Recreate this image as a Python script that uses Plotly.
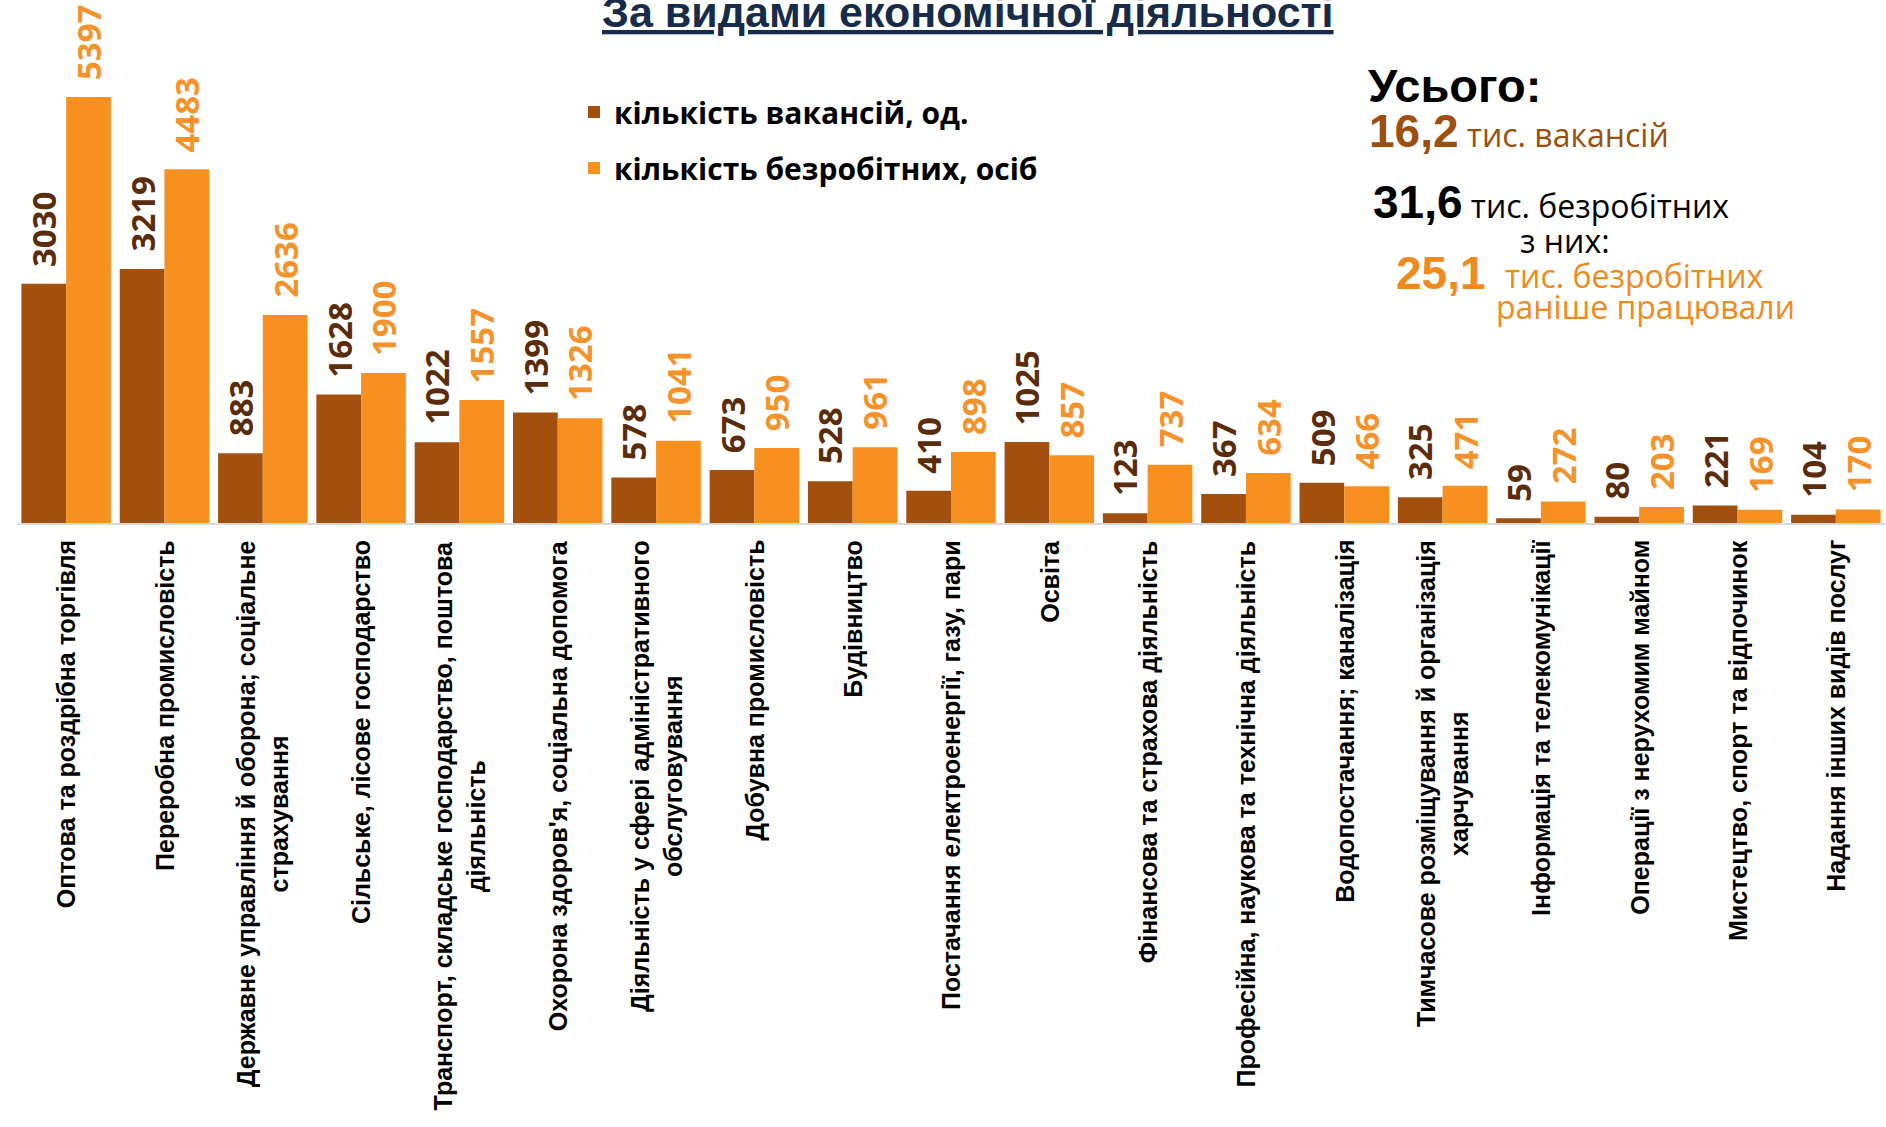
import plotly.graph_objects as go

categories = [
    "Оптова та роздрібна торгівля",
    "Переробна промисловість",
    "Державне управління й оборона; соціальне<br>страхування",
    "Сільське, лісове господарство",
    "Транспорт, складське господарство, поштова<br>діяльність",
    "Охорона здоров'я, соціальна допомога",
    "Діяльність у сфері адміністративного<br>обслуговування",
    "Добувна промисловість",
    "Будівництво",
    "Постачання електроенергії, газу, пари",
    "Освіта",
    "Фінансова та страхова діяльність",
    "Професійна, наукова та технічна діяльність",
    "Водопостачання; каналізація",
    "Тимчасове розміщування й організація<br>харчування",
    "Інформація та телекомунікації",
    "Операції з нерухомим майном",
    "Мистецтво, спорт та відпочинок",
    "Надання інших видів послуг",
]
vacancies = [3030, 3219, 883, 1628, 1022, 1399, 578, 673, 528, 410, 1025, 123, 367, 509, 325, 59, 80, 221, 104]
unemployed = [5397, 4483, 2636, 1900, 1557, 1326, 1041, 950, 961, 898, 857, 737, 634, 466, 471, 272, 203, 169, 170]
series_names = ["кількість вакансій, од.", "кількість безробітних, осіб"]

BROWN = "#A3500F"
ORANGE = "#F7901E"
BROWN_LABEL = "#5A2C0A"
ORANGE_LABEL = "#F7922A"
BROWN_TEXT = "#9C4F0E"
ORANGE_TEXT = "#F08A1C"

W, H = 1886, 1127
ML, MR, MT, MB = 17, 1, 0, 604
PW = W - ML - MR
PH = H - MT - MB


def px(x):
    return (x - ML) / PW


def py(y):
    return (H - MB - y) / PH


fig = go.Figure()
fig.add_trace(go.Bar(x=categories, y=vacancies, name=series_names[0],
                     marker=dict(color=BROWN, line=dict(width=0)), legendgroup="a"))
fig.add_trace(go.Bar(x=categories, y=unemployed, name=series_names[1],
                     marker=dict(color=ORANGE, line=dict(width=0)), legendgroup="b"))

annotations = []
shift = 22.4
for cat, v, u in zip(categories, vacancies, unemployed):
    annotations.append(dict(x=cat, y=v, xref="x", yref="y", text=f"<b>{v}</b>", showarrow=False,
                            textangle=-90, xanchor="center", yanchor="bottom", xshift=-shift, yshift=15,
                            font=dict(family="Open Sans", size=33, color=BROWN_LABEL)))
    annotations.append(dict(x=cat, y=u, xref="x", yref="y", text=f"<b>{u}</b>", showarrow=False,
                            textangle=-90, xanchor="center", yanchor="bottom", xshift=shift, yshift=15,
                            font=dict(family="Open Sans", size=33, color=ORANGE_LABEL)))
    annotations.append(dict(x=cat, y=0, xref="x", yref="paper", text=cat, showarrow=False,
                            textangle=-90, xanchor="center", yanchor="top", yshift=-15, align="center",
                            font=dict(family="Liberation Sans", size=25, color="#000000", weight="bold")))

# title
annotations.append(dict(x=px(968), y=py(12), xref="paper", yref="paper", showarrow=False,
                        text="<u><b>За видами економічної діяльності</b></u>", xanchor="center", yanchor="middle",
                        font=dict(family="Liberation Sans", size=43, color="#172B4A")))

# totals block
annotations.append(dict(x=px(1366), y=py(86), xref="paper", yref="paper", showarrow=False,
                        text="<b>Усього:</b>", xanchor="left", yanchor="middle",
                        font=dict(family="Liberation Sans", size=47, color="#000000")))
annotations.append(dict(x=px(1367), y=py(131), xref="paper", yref="paper", showarrow=False,
                        text="<b>16,2</b><span style='font-family:Open Sans;font-size:32px'> тис. вакансій</span>",
                        xanchor="left", yanchor="middle",
                        font=dict(family="Liberation Sans", size=46, color=BROWN_TEXT)))
annotations.append(dict(x=px(1371), y=py(202), xref="paper", yref="paper", showarrow=False,
                        text="<b>31,6</b><span style='font-family:Open Sans;font-size:32px'> тис. безробітних</span>",
                        xanchor="left", yanchor="middle",
                        font=dict(family="Liberation Sans", size=46, color="#000000")))
annotations.append(dict(x=px(1565), y=py(240), xref="paper", yref="paper", showarrow=False,
                        text="з них:", xanchor="center", yanchor="middle",
                        font=dict(family="Open Sans", size=32, color="#000000")))
annotations.append(dict(x=px(1394), y=py(273), xref="paper", yref="paper", showarrow=False,
                        text="<b>25,1</b>", xanchor="left", yanchor="middle",
                        font=dict(family="Liberation Sans", size=46, color=ORANGE_TEXT)))
annotations.append(dict(x=px(1634), y=py(275), xref="paper", yref="paper", showarrow=False,
                        text="тис. безробітних", xanchor="center", yanchor="middle",
                        font=dict(family="Open Sans", size=32, color=ORANGE_TEXT)))
annotations.append(dict(x=px(1645), y=py(306), xref="paper", yref="paper", showarrow=False,
                        text="раніше працювали", xanchor="center", yanchor="middle",
                        font=dict(family="Open Sans", size=32, color=ORANGE_TEXT)))

fig.update_layout(
    width=W, height=H,
    margin=dict(l=ML, r=MR, t=MT, b=MB, pad=0),
    paper_bgcolor="white", plot_bgcolor="white",
    barmode="group", bargap=0.09, bargroupgap=0,
    showlegend=True,
    legend=dict(x=px(574), y=py(86), xanchor="left", yanchor="top", bgcolor="rgba(0,0,0,0)",
                font=dict(family="Open Sans", size=30, color="#000000", weight="bold"),
                traceorder="grouped", tracegroupgap=14, itemwidth=30),
    xaxis=dict(showticklabels=False, showline=True, linecolor="#D9D9D9", linewidth=2, ticks="",
               showgrid=False, zeroline=False, range=[-0.5, len(categories) - 0.5]),
    yaxis=dict(visible=False, range=[0, 6626], showgrid=False, zeroline=False),
    annotations=annotations,
    font=dict(family="Open Sans"),
)

fig.write_html("out.html", config={"displayModeBar": False},
               post_script="document.body.style.margin='0px';")
